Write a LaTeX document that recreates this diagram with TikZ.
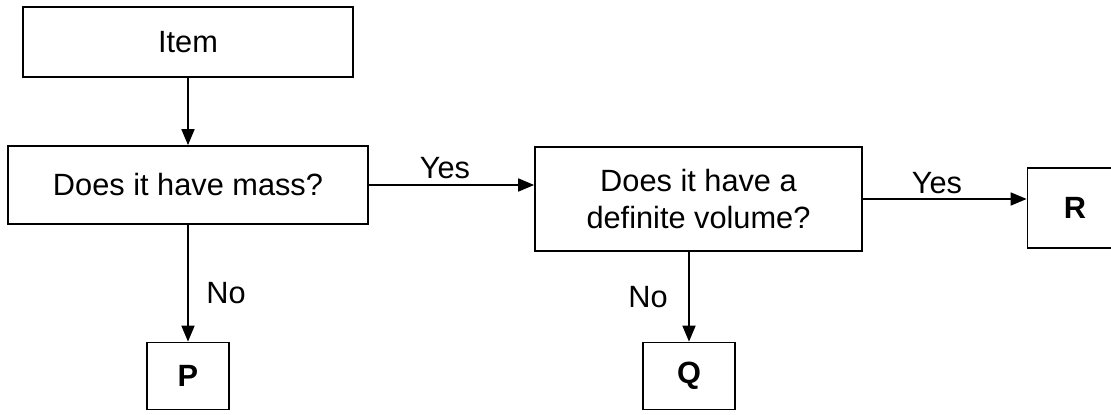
\documentclass[tikz,border=0pt]{standalone}
\usepackage{fontspec}
\setmainfont{Liberation Sans}
\usetikzlibrary{arrows.meta}

\begin{document}
\begin{tikzpicture}[x=0.02cm, y=-0.02cm,
    box/.style={draw, line width=1pt, inner sep=0pt, align=center,
      font=\fontsize{17.5}{21}\selectfont},
    leaf/.style={box, font=\fontsize{17.5}{21}\selectfont\bfseries},
    lab/.style={font=\fontsize{17.5}{21}\selectfont},
    link/.style={line width=1pt, -{Triangle[length=3.2mm, width=2.6mm]}}]
    \useasboundingbox (0,0) rectangle (1111,415);
    \node [box, minimum width=6.6cm, minimum height=1.4cm] (item) at (188,42) {Item};
    \node [box, minimum width=7.2cm, minimum height=1.56cm] (mass) at (188,185) {Does it have mass?};
    \node [box, minimum width=6.54cm, minimum height=2.08cm] (volume) at (698.5,199) {Does it have a\\definite volume?};
    \node [leaf, minimum width=1.9cm, minimum height=1.6cm] (r) at (1075,208) {R};
    \node [leaf, minimum width=1.64cm, minimum height=1.34cm] (p) at (188,376) {P};
    \node [leaf, minimum width=1.84cm, minimum height=1.34cm] (q) at (689,376) {Q};
    % connectors
    \draw [link] (item) -- (mass);
    \draw [link] (mass.east) -- (mass.east -| volume.west);
    \draw [link] (volume.east) -- (volume.east -| r.west);
    \draw [link] (mass) -- (p);
    \draw [link] (volume.south -| q.north) -- (q.north);
    % labels
    \node [lab] (yes1) at (445,168) {Yes};
    \node [lab] (yes2) at (937,183) {Yes};
    \node [lab] (no1) at (226,293) {No};
    \node [lab] (no2) at (648,297) {No};
\end{tikzpicture}
\end{document}
